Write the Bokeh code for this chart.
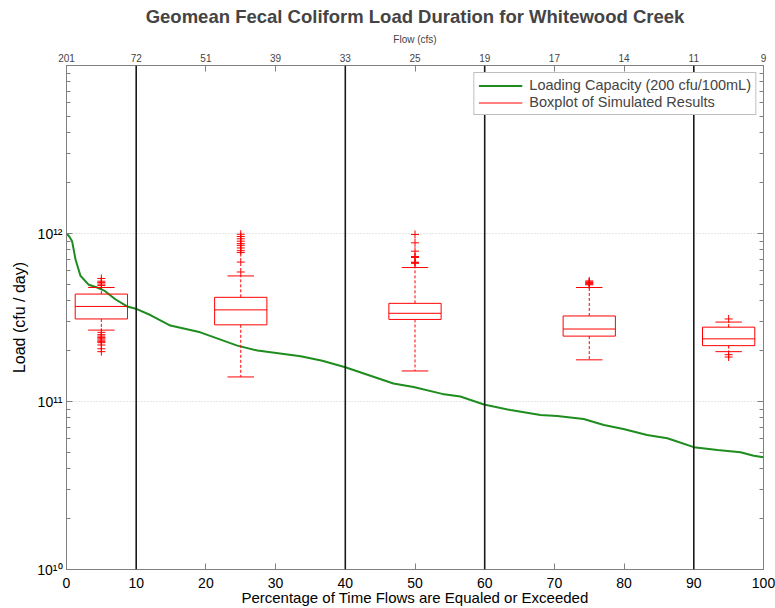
from bokeh.plotting import figure
from bokeh.models import (LinearAxis, LogAxis, FixedTicker, Span, Legend, LegendItem,
                          CustomJSTickFormatter, ColumnDataSource)
from bokeh.embed import file_html
from bokeh.resources import INLINE

# ---------------- data ----------------
flow_tick_pct = [0, 10, 20, 30, 40, 50, 60, 70, 80, 90, 100]
flow_tick_labels = ["201", "72", "51", "39", "33", "25", "19", "17", "14", "11", "9"]

zone_pct = [10, 40, 60, 90]

load_pct = [0, 0.4, 0.8, 1.3, 2.0, 3.2, 4.5, 5.5, 7.0, 8.7, 10.1, 12.1, 14.9, 19.2,
            24.5, 27.4, 33.6, 36.7, 40.0, 46.9, 49.8, 53.9, 56.5, 59.9, 63.7, 68.0,
            70.4, 74.2, 77.1, 79.9, 83.3, 86.2, 87.6, 90.0, 93.4, 96.7, 98.6, 100]
load_cap = [1.0e12, 9.6e11, 9.0e11, 7.0e11, 5.6e11, 4.95e11, 4.75e11, 4.55e11, 4.06e11,
            3.68e11, 3.55e11, 3.26e11, 2.83e11, 2.58e11, 2.15e11, 2.01e11, 1.86e11,
            1.75e11, 1.60e11, 1.28e11, 1.22e11, 1.11e11, 1.07e11, 9.6e10, 8.89e10,
            8.30e10, 8.19e10, 7.86e10, 7.24e10, 6.86e10, 6.32e10, 6.04e10, 5.78e10,
            5.35e10, 5.15e10, 4.99e10, 4.75e10, 4.66e10]

box_pct = [5, 25, 50, 75, 95]
box_q1 = [3.10e11, 2.86e11, 3.08e11, 2.45e11, 2.15e11]
box_med = [3.68e11, 3.51e11, 3.35e11, 2.70e11, 2.36e11]
box_q3 = [4.36e11, 4.17e11, 3.84e11, 3.23e11, 2.77e11]
box_lo = [2.66e11, 1.40e11, 1.52e11, 1.77e11, 1.98e11]
box_hi = [4.77e11, 5.59e11, 6.27e11, 4.77e11, 2.97e11]
box_outliers = [
    [4.9e11, 5.0e11, 5.1e11, 5.2e11, 5.4e11,
     2.58e11, 2.5e11, 2.45e11, 2.4e11, 2.36e11, 2.32e11, 2.28e11, 2.24e11, 2.17e11, 2.06e11, 1.98e11],
    [5.9e11, 6.76e11, 7.7e11, 7.9e11, 8.2e11, 8.5e11, 8.7e11, 9.0e11, 9.3e11, 9.6e11, 9.9e11],
    [6.65e11, 6.7e11, 6.75e11, 7.2e11, 7.3e11, 7.85e11, 8.8e11, 9.87e11],
    [4.95e11, 5.0e11, 5.05e11, 5.1e11, 5.15e11, 5.22e11],
    [3.10e11, 1.90e11, 1.84e11],
]

y_major = [1e10, 1e11, 1e12]

# ---------------- style ----------------
FONT = "Liberation Sans"
AX_COL = "#808080"
RED = "#ff0000"
GREEN = "#1e8c1e"
BOX_HALF = 3.75
CAP_HALF = 1.9

p = figure(width=775, height=608, x_range=(0, 100), y_range=(1e10, 1e13),
           y_axis_type="log", output_backend="svg", toolbar_location=None,
           min_border_left=66, min_border_right=12, min_border_top=65, min_border_bottom=37)

p.title.text = "Geomean Fecal Coliform Load Duration for Whitewood Creek"
p.title.align = "center"
p.title.text_font = FONT
p.title.text_font_size = "18.5px"
p.title.text_font_style = "bold"
p.title.standoff = 7

p.outline_line_color = AX_COL
p.background_fill_color = "white"
p.border_fill_color = "white"

# y ticks
y_minor = [k * 10 ** e for e in (10, 11, 12) for k in range(2, 10)]
yticker = FixedTicker(ticks=y_major, minor_ticks=y_minor)
sup_fmt = CustomJSTickFormatter(code="""
const sup = {'0':'\u2070','1':'\u00b9','2':'\u00b2','3':'\u00b3','4':'\u2074','5':'\u2075','6':'\u2076','7':'\u2077','8':'\u2078','9':'\u2079'};
const e = Math.round(Math.log10(tick));
return '10' + String(e).split('').map(c => sup[c]).join('');
""")

yax = p.yaxis[0]
yax.ticker = yticker
yax.formatter = sup_fmt
yax.axis_label = "Load (cfu / day)"
xax = p.xaxis[0]
xax.ticker = FixedTicker(ticks=flow_tick_pct, minor_ticks=[])
xax.axis_label = "Percentage of Time Flows are Equaled or Exceeded"

for ax in (xax, yax):
    ax.axis_line_color = AX_COL
    ax.major_tick_line_color = AX_COL
    ax.minor_tick_line_color = AX_COL
    ax.major_tick_out = 0
    ax.major_tick_in = 6
    ax.minor_tick_out = 0
    ax.minor_tick_in = 4
    ax.major_label_text_font = FONT
    ax.major_label_text_font_size = "14px"
    ax.major_label_text_color = "black"
    ax.axis_label_text_font = FONT
    ax.axis_label_text_font_style = "normal"
    ax.axis_label_text_color = "black"
xax.axis_label_text_font_size = "15px"
yax.axis_label_text_font_size = "16px"
xax.major_label_standoff = 8
xax.axis_label_standoff = -2
yax.major_label_standoff = 4
yax.axis_label_standoff = 6

top = LinearAxis(ticker=FixedTicker(ticks=flow_tick_pct, minor_ticks=[]),
                 major_label_overrides={t: l for t, l in zip(flow_tick_pct, flow_tick_labels)},
                 axis_label="Flow (cfs)")
top.axis_line_color = AX_COL
top.major_tick_line_color = AX_COL
top.major_tick_out = 0
top.major_tick_in = 6
top.minor_tick_line_color = None
top.major_label_text_font = FONT
top.major_label_text_font_size = "10px"
top.major_label_standoff = 4
top.axis_label_text_font = FONT
top.axis_label_text_font_size = "10px"
top.axis_label_text_font_style = "normal"
top.axis_label_standoff = 6
p.add_layout(top, "above")

right = LogAxis(ticker=yticker, formatter=CustomJSTickFormatter(code="return '';"))
right.axis_line_color = AX_COL
right.major_tick_line_color = AX_COL
right.minor_tick_line_color = AX_COL
right.major_tick_out = 0
right.major_tick_in = 6
right.minor_tick_out = 0
right.minor_tick_in = 4
right.major_label_standoff = 0
p.add_layout(right, "right")

p.xgrid.grid_line_color = None
p.ygrid.ticker = yticker
p.ygrid.grid_line_color = "#cfcfcf"
p.ygrid.grid_line_dash = "1 2"
p.ygrid.grid_line_width = 1

# zone separators
for z in zone_pct:
    p.add_layout(Span(location=z, dimension="height", line_color="#1a1a1a", line_width=1.6))

# loading capacity curve
curve = p.line(load_pct, load_cap, line_color=GREEN, line_width=2)

# boxplots
src = ColumnDataSource(dict(
    x=box_pct,
    left=[b - BOX_HALF for b in box_pct], right=[b + BOX_HALF for b in box_pct],
    cl=[b - CAP_HALF for b in box_pct], cr=[b + CAP_HALF for b in box_pct],
    q1=box_q1, med=box_med, q3=box_q3, lo=box_lo, hi=box_hi))
p.segment(x0="x", y0="q3", x1="x", y1="hi", source=src, line_color=RED, line_dash="3 2", line_width=1)
p.segment(x0="x", y0="q1", x1="x", y1="lo", source=src, line_color=RED, line_dash="3 2", line_width=1)
p.segment(x0="cl", y0="hi", x1="cr", y1="hi", source=src, line_color=RED, line_width=1)
p.segment(x0="cl", y0="lo", x1="cr", y1="lo", source=src, line_color=RED, line_width=1)
p.quad(left="left", right="right", bottom="q1", top="q3", source=src,
       fill_color=None, line_color=RED, line_width=1)
med = p.multi_line(xs=[[b - BOX_HALF, b + BOX_HALF] for b in box_pct],
                   ys=[[m, m] for m in box_med], line_color=RED, line_width=1)

ox, oy = [], []
for b, outs in zip(box_pct, box_outliers):
    ox += [b] * len(outs)
    oy += outs
p.scatter(ox, oy, marker="cross", size=8, line_color=RED, line_width=1)

legend = Legend(items=[LegendItem(label="Loading Capacity (200 cfu/100mL)", renderers=[curve]),
                       LegendItem(label="Boxplot of Simulated Results", renderers=[med])],
                location="top_right")
legend.label_text_font = FONT
legend.label_text_font_size = "14.5px"
legend.glyph_width = 44
legend.glyph_height = 15
legend.label_height = 15
legend.spacing = 1
legend.padding = 4
legend.margin = 7
legend.label_standoff = 7
legend.border_line_color = AX_COL
legend.background_fill_alpha = 1
p.add_layout(legend, "center")

open("out.html", "w").write(file_html(p, INLINE))
